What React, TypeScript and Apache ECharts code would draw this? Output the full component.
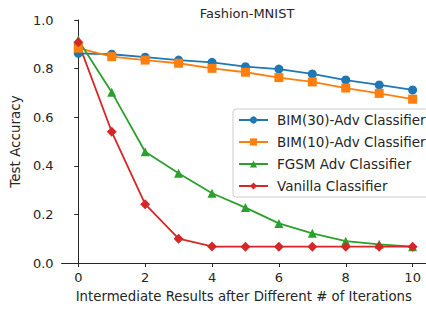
import React, { useEffect, useRef } from "react";
import * as echarts from "echarts";

const iterations = [0, 1, 2, 3, 4, 5, 6, 7, 8, 9, 10];
const bim30 = [0.863, 0.859, 0.847, 0.835, 0.826, 0.808, 0.798, 0.778, 0.753, 0.733, 0.712];
const bim10 = [0.884, 0.849, 0.835, 0.822, 0.801, 0.785, 0.763, 0.745, 0.72, 0.698, 0.674];
const fgsm = [0.918, 0.703, 0.458, 0.369, 0.287, 0.228, 0.163, 0.122, 0.09, 0.077, 0.067];
const vanilla = [0.908, 0.54, 0.242, 0.1, 0.068, 0.067, 0.067, 0.067, 0.067, 0.067, 0.067];
const xTicks = [0, 2, 4, 6, 8, 10];

const FONT = "DejaVu Sans";
const INK = "#262626";

export default function App() {
  const ref = useRef<HTMLDivElement>(null);
  useEffect(() => {
    const chart = echarts.init(ref.current!, null, { renderer: "svg" });
    const mk = (name: string, data: number[], color: string, symbol: string, size: number) => ({
      name,
      type: "line",
      data: iterations.map((x, i) => [x, data[i]]),
      symbol,
      symbolSize: size,
      itemStyle: { color },
      lineStyle: { color, width: 1.8 },
    });
    chart.setOption({
      animation: false,
      textStyle: { fontFamily: FONT },
      title: {
        text: "Fashion-MNIST",
        left: 242,
        textAlign: "center",
        top: 2,
        textStyle: { fontFamily: FONT, fontSize: 13, fontWeight: "normal", color: INK },
      },
      grid: { left: 59, right: 0, top: 20, bottom: 46 },
      legend: {
        left: 233,
        top: 109,
        orient: "vertical",
        itemWidth: 29,
        itemHeight: 9,
        itemGap: 8,
        backgroundColor: "rgba(255,255,255,0.8)",
        borderColor: "#cccccc",
        borderWidth: 1,
        borderRadius: 3,
        padding: [4, 4, 4, 5],
        textStyle: { fontFamily: FONT, fontSize: 13.5, color: INK, padding: [0, 0, 0, 4] },
        data: ["BIM(30)-Adv Classifier", "BIM(10)-Adv Classifier", "FGSM Adv Classifier", "Vanilla Classifier"],
      },
      xAxis: {
        type: "value",
        min: -0.5,
        max: 10.4,
        name: "Intermediate Results after Different # of Iterations",
        nameLocation: "middle",
        nameGap: 27,
        nameTextStyle: { fontFamily: FONT, fontSize: 13.3, color: INK },
        axisLine: { show: true, onZero: false, lineStyle: { color: INK, width: 1 } },
        axisTick: { show: true, length: 4, customValues: xTicks, lineStyle: { color: INK } },
        axisLabel: { customValues: xTicks, fontFamily: FONT, fontSize: 13, color: INK, margin: 8 },
        splitLine: { show: false },
      },
      yAxis: {
        type: "value",
        min: 0,
        max: 1,
        interval: 0.2,
        name: "Test Accuracy",
        nameLocation: "middle",
        nameGap: 36,
        nameTextStyle: { fontFamily: FONT, fontSize: 13.5, color: INK },
        axisLine: { show: true, lineStyle: { color: INK, width: 1 } },
        axisTick: { show: true, length: 4, lineStyle: { color: INK } },
        axisLabel: {
          fontFamily: FONT,
          fontSize: 13,
          color: INK,
          margin: 8,
          formatter: (v: number) => v.toFixed(1),
        },
        splitLine: { show: false },
      },
      series: [
        mk("BIM(30)-Adv Classifier", bim30, "#1f77b4", "circle", 9),
        mk("BIM(10)-Adv Classifier", bim10, "#ff7f0e", "rect", 9),
        mk("FGSM Adv Classifier", fgsm, "#2ca02c", "triangle", 9),
        mk("Vanilla Classifier", vanilla, "#d62728", "diamond", 10),
      ],
    });
    return () => chart.dispose();
  }, []);
  return <div ref={ref} style={{ width: 426, height: 309, position: "absolute", left: 0, top: 0 }} />;
}
